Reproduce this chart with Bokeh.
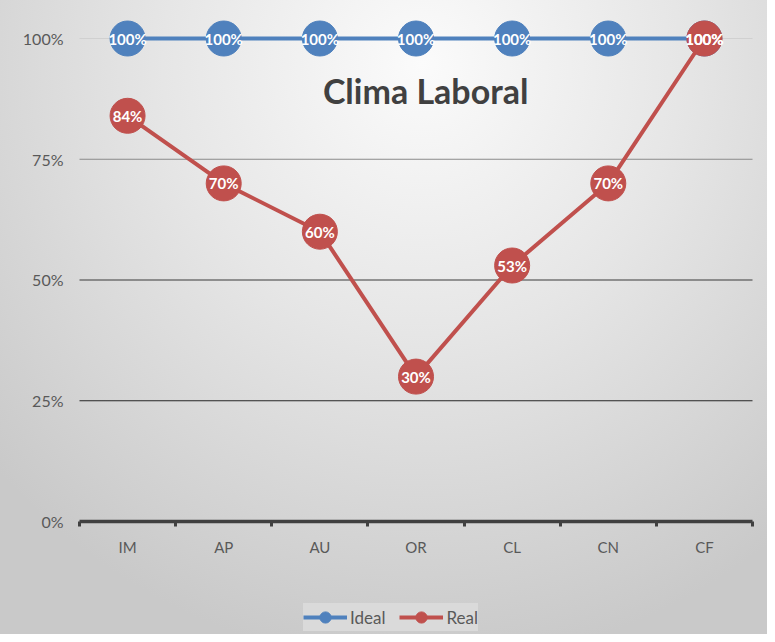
from bokeh.plotting import figure
from bokeh.models import (Range1d, FixedTicker, NumeralTickFormatter, Label,
                          Legend, LegendItem, ColumnDataSource, LabelSet)
from bokeh.core.properties import value
from bokeh.embed import file_html
from bokeh.resources import INLINE

categories = ["IM", "AP", "AU", "OR", "CL", "CN", "CF"]
ideal = [1.00, 1.00, 1.00, 1.00, 1.00, 1.00, 1.00]
real = [0.84, 0.70, 0.60, 0.30, 0.53, 0.70, 1.00]
y_ticks = [0, 0.25, 0.5, 0.75, 1.0]
title_text = "Clima Laboral"

BLUE = "#4f81bd"
RED = "#c0504d"
FONT = "Lato"

n = len(categories)
xs = [i + 0.5 for i in range(n)]

W, H = 767, 634
p = figure(width=W, height=H, output_backend="svg", toolbar_location=None,
           x_range=Range1d(-0.8217, 7.156), y_range=Range1d(-0.234, 1.0787),
           min_border_left=0, min_border_right=0, min_border_top=0,
           min_border_bottom=0)
p.background_fill_alpha = 0
p.border_fill_alpha = 0
p.outline_line_color = None
p.styles = {"background-image": "radial-gradient(ellipse 75% 95% at 55% 10%, #fbfbfb 0%, #e6e6e6 45%, #c9c9c9 100%)"}
p.xgrid.grid_line_color = None
p.ygrid.grid_line_color = None

# gridlines
grid_colors = {0.25: "#262626", 0.5: "#3a3a3a", 0.75: "#8a8a8a", 1.0: "#d0d0d0"}
gy = y_ticks[1:]
p.segment(x0=[0] * len(gy), x1=[n] * len(gy), y0=gy, y1=gy,
          line_color=[grid_colors[v] for v in gy], line_width=1.2)

# axes
xa = p.xaxis[0]
xa.fixed_location = 0
xa.bounds = (0, n)
xa.ticker = FixedTicker(ticks=xs, minor_ticks=list(range(n + 1)))
xa.major_label_overrides = {x: c for x, c in zip(xs, categories)}
xa.axis_line_color = "#404040"
xa.axis_line_width = 3.5
xa.major_tick_line_color = None
xa.major_tick_out = 0
xa.major_tick_in = 0
xa.minor_tick_line_color = "#404040"
xa.minor_tick_line_width = 3
xa.minor_tick_out = 5
xa.minor_tick_in = 0
xa.major_label_standoff = 12
xa.major_label_text_font = FONT
xa.major_label_text_font_size = "15px"
xa.major_label_text_color = "#595959"

ya = p.yaxis[0]
ya.fixed_location = 0
ya.bounds = (0, 1)
ya.ticker = FixedTicker(ticks=y_ticks)
ya.formatter = NumeralTickFormatter(format="0%")
ya.axis_line_color = None
ya.major_tick_line_color = None
ya.minor_tick_line_color = None
ya.major_tick_out = 0
ya.major_tick_in = 0
ya.major_label_standoff = 16
ya.major_label_text_font = FONT
ya.major_label_text_font_size = "16px"
ya.major_label_text_color = "#595959"

src = ColumnDataSource(dict(x=xs, ideal=ideal, real=real,
                            ideal_lbl=[f"{round(v*100)}%" for v in ideal],
                            real_lbl=[f"{round(v*100)}%" for v in real]))

li = p.line("x", "ideal", source=src, line_color=BLUE, line_width=4)
si = p.scatter("x", "ideal", source=src, size=35, fill_color=BLUE, line_color=BLUE)
p.add_layout(LabelSet(x="x", y="ideal", text="ideal_lbl", source=src, text_align="center",
                      text_baseline="middle", text_color="white", text_font=value(FONT),
                      text_font_style="bold", text_font_size="15px"))
lr = p.line("x", "real", source=src, line_color=RED, line_width=4)
sr = p.scatter("x", "real", source=src, size=35, fill_color=RED, line_color=RED)
p.add_layout(LabelSet(x="x", y="real", text="real_lbl", source=src, text_align="center",
                      text_baseline="middle", text_color="white", text_font=value(FONT),
                      text_font_style="bold", text_font_size="15px"))

p.add_layout(Label(x=3.6, y=0.893, text=title_text, text_align="center", text_baseline="middle",
                   text_font=FONT, text_font_style="bold", text_font_size="34px",
                   text_color="#404040"))

legend = Legend(items=[LegendItem(label="Ideal", renderers=[li, si]),
                       LegendItem(label="Real", renderers=[lr, sr])],
                orientation="horizontal", location=(303, 3))
legend.label_text_font = FONT
legend.label_text_font_size = "17px"
legend.label_text_color = "#595959"
legend.glyph_width = 44
legend.glyph_height = 28
legend.label_standoff = 3
legend.spacing = 14
legend.padding = 5
legend.margin = 0
legend.background_fill_color = "#dadada"
legend.background_fill_alpha = 1
legend.border_line_color = None
p.add_layout(legend, "center")

open("out.html", "w").write(file_html(p, INLINE))
